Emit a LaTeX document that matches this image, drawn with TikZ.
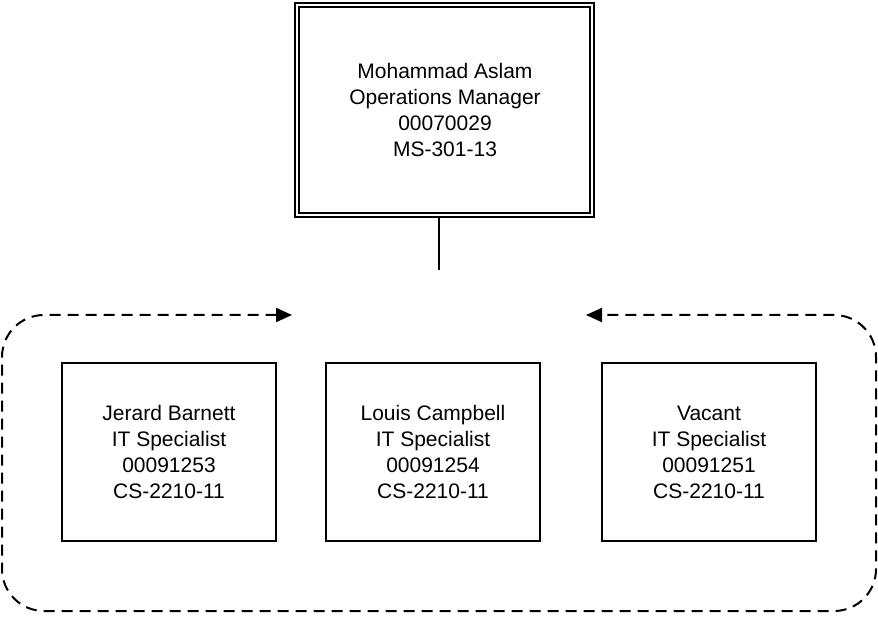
\documentclass[tikz,border=0pt]{standalone}
\usepackage{fontspec}
\setmainfont{Liberation Sans}
\usetikzlibrary{arrows.meta}
\begin{document}
\begin{tikzpicture}[x=1pt,y=-1pt,
  txt/.style={align=center,font=\fontsize{21}{26}\selectfont,inner sep=0pt},
  mgrbox/.style={draw,line width=2pt,double,double distance=2pt,minimum width=295pt,minimum height=210pt,inner sep=0pt},
  staffbox/.style={draw,line width=2pt,minimum width=214pt,minimum height=178pt,inner sep=0pt},
  grp/.style={line width=2pt,dash pattern=on 11pt off 7pt,rounded corners=42pt}]
\useasboundingbox (0,0) rectangle (878,617);
\node[mgrbox] (mgr) at (444.5,110) {};
\node[txt] (mgrt) at (445,110) {Mohammad Aslam\\Operations Manager\\00070029\\MS-301-13};
\coordinate (stem) at (439,270);
\draw[line width=2pt] (mgr.south -| stem) -- (stem);
\node[staffbox] (b1) at (169,452) {};
\node[staffbox] (b2) at (433,452) {};
\node[staffbox] (b3) at (709,452) {};
\node[txt] (t1) at (169,452) {Jerard Barnett\\IT Specialist\\00091253\\CS-2210-11};
\node[txt] (t2) at (433,452) {Louis Campbell\\IT Specialist\\00091254\\CS-2210-11};
\node[txt] (t3) at (709,452) {Vacant\\IT Specialist\\00091251\\CS-2210-11};
\coordinate (al) at (292,315);
\coordinate (ar) at (586,315);
\draw[grp,{Triangle[length=16pt,width=14pt]}-{Triangle[length=16pt,width=14pt]}] (al) -- (2,315) -- (2,611) -- (876,611) -- (876,315) -- (ar);
\end{tikzpicture}
\end{document}
